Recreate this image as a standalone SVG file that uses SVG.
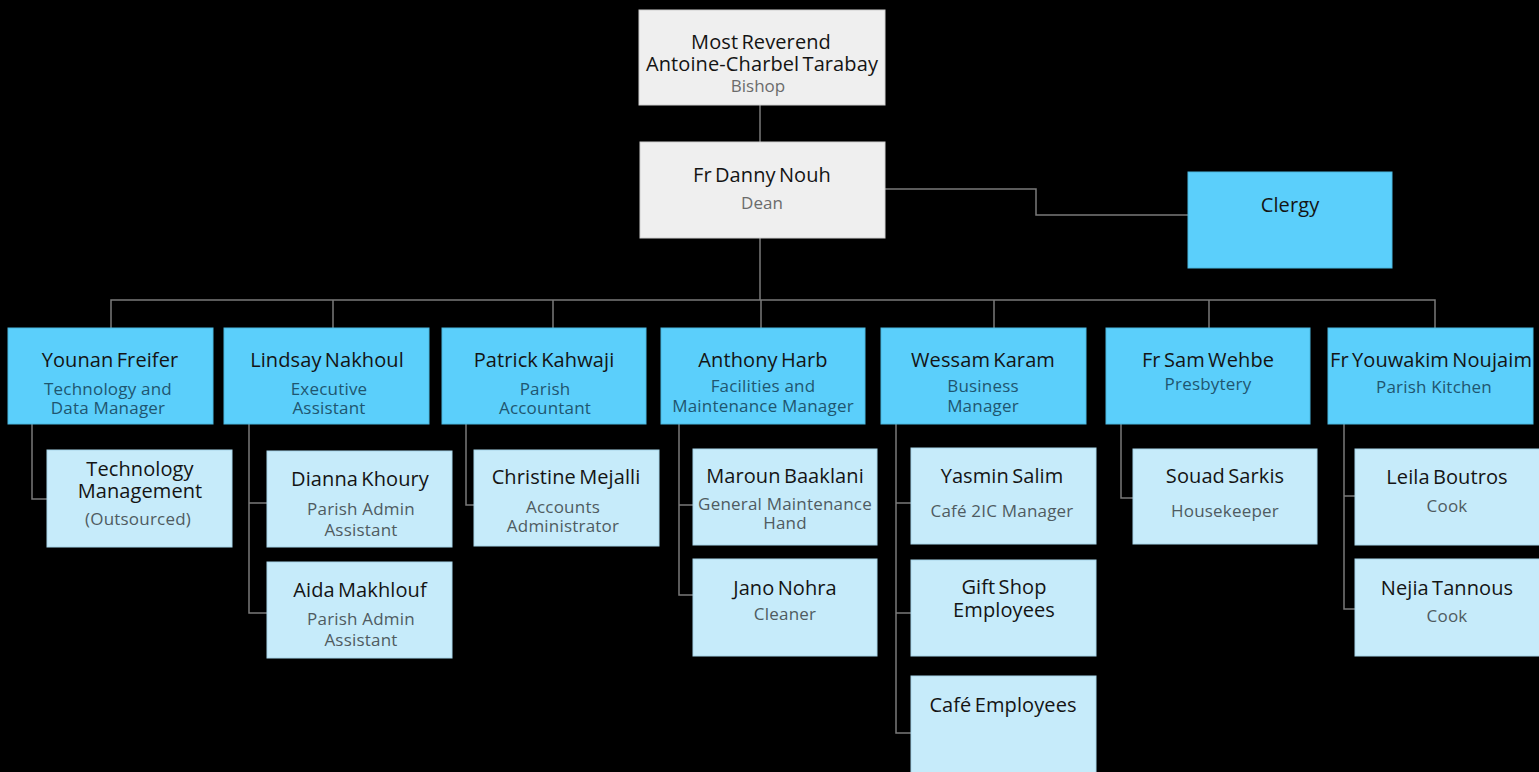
<svg xmlns="http://www.w3.org/2000/svg" width="1539" height="772" viewBox="0 0 1539 772">
<style>
.bg{fill:#000}
.top{fill:#efefef;stroke:#d0d0d0;stroke-width:1}
.l2{fill:#5bcffb;stroke:#4bb8e0;stroke-width:1}
.l3{fill:#c6ebfa;stroke:#a8d6ea;stroke-width:1}
.conn{fill:none;stroke:#7a7a7a;stroke-width:1.5}
text{font-family:"Open Sans","Liberation Sans",sans-serif;text-anchor:middle}
.nm{font-size:20px;fill:#141414;letter-spacing:0.1px;word-spacing:-2px;font-weight:500}
.st{font-size:17px;fill:#6b6b6b}
.s2{font-size:17px;fill:#1f5670;letter-spacing:0.2px}
.s3{font-size:17px;fill:#4f5b61;letter-spacing:0.2px}
</style>
<rect class="bg" x="0" y="0" width="1539" height="772"/>
<g id="connectors">
<path class="conn" d="M760 105V142"/>
<path class="conn" d="M885 189H1036V215H1188"/>
<path class="conn" d="M760 238V300"/>
<path class="conn" d="M111 328V300H1435V328"/>
<path class="conn" d="M333 300V328M553 300V328M761 300V328M994 300V328M1209 300V328"/>
<path class="conn" d="M32 424V499H47"/>
<path class="conn" d="M249 424V613H267M249 503H267"/>
<path class="conn" d="M466 424V505H474"/>
<path class="conn" d="M679 424V595H693M679 505H693"/>
<path class="conn" d="M896 424V733H911M896 503H911M896 613H911"/>
<path class="conn" d="M1121 424V498H1133"/>
<path class="conn" d="M1344 424V609H1355M1344 496H1355"/>
</g>
<g id="bishop"><rect class="top" x="639" y="10" width="246" height="95"/>
<text class="nm" x="761" y="49">Most Reverend</text>
<text class="nm" x="762" y="71">Antoine-Charbel Tarabay</text>
<text class="st" x="758" y="92">Bishop</text></g>
<g id="dean"><rect class="top" x="640" y="142" width="245" height="96"/>
<text class="nm" x="762" y="182">Fr Danny Nouh</text>
<text class="st" x="762" y="209">Dean</text></g>
<g id="clergy"><rect class="l2" x="1188" y="172" width="204" height="96"/>
<text class="nm" x="1290" y="212">Clergy</text></g>

<g id="younan"><rect class="l2" x="8" y="328" width="205" height="96"/>
<text class="nm" x="110" y="367">Younan Freifer</text>
<text class="s2" x="108" y="395">Technology and</text>
<text class="s2" x="108" y="414">Data Manager</text></g>
<g id="lindsay"><rect class="l2" x="224" y="328" width="205" height="96"/>
<text class="nm" x="327" y="367">Lindsay Nakhoul</text>
<text class="s2" x="329" y="395">Executive</text>
<text class="s2" x="329" y="414">Assistant</text></g>
<g id="patrick"><rect class="l2" x="442" y="328" width="204" height="96"/>
<text class="nm" x="544" y="367">Patrick Kahwaji</text>
<text class="s2" x="545" y="395">Parish</text>
<text class="s2" x="545" y="414">Accountant</text></g>
<g id="anthony"><rect class="l2" x="661" y="328" width="204" height="96"/>
<text class="nm" x="763" y="367">Anthony Harb</text>
<text class="s2" x="763" y="392">Facilities and</text>
<text class="s2" x="763" y="412">Maintenance Manager</text></g>
<g id="wessam"><rect class="l2" x="881" y="328" width="205" height="96"/>
<text class="nm" x="983" y="367">Wessam Karam</text>
<text class="s2" x="983" y="392">Business</text>
<text class="s2" x="983" y="412">Manager</text></g>
<g id="sam"><rect class="l2" x="1106" y="328" width="204" height="96"/>
<text class="nm" x="1208" y="367">Fr Sam Wehbe</text>
<text class="s2" x="1208" y="390">Presbytery</text></g>
<g id="youwakim"><rect class="l2" x="1328" y="328" width="205" height="96"/>
<text class="nm" x="1431" y="367">Fr Youwakim Noujaim</text>
<text class="s2" x="1434" y="393">Parish Kitchen</text></g>

<g id="techmgmt"><rect class="l3" x="47" y="450" width="185" height="97"/>
<text class="nm" x="140" y="476">Technology</text>
<text class="nm" x="140" y="498">Management</text>
<text class="s3" x="138" y="525">(Outsourced)</text></g>
<g id="dianna"><rect class="l3" x="267" y="451" width="185" height="96"/>
<text class="nm" x="360" y="486">Dianna Khoury</text>
<text class="s3" x="361" y="515">Parish Admin</text>
<text class="s3" x="361" y="536">Assistant</text></g>
<g id="aida"><rect class="l3" x="267" y="562" width="185" height="96"/>
<text class="nm" x="360" y="597">Aida Makhlouf</text>
<text class="s3" x="361" y="625">Parish Admin</text>
<text class="s3" x="361" y="646">Assistant</text></g>
<g id="christine"><rect class="l3" x="474" y="450" width="185" height="96"/>
<text class="nm" x="566" y="484">Christine Mejalli</text>
<text class="s3" x="563" y="513">Accounts</text>
<text class="s3" x="563" y="532">Administrator</text></g>
<g id="maroun"><rect class="l3" x="693" y="449" width="184" height="96"/>
<text class="nm" x="785" y="483">Maroun Baaklani</text>
<text class="s3" x="785" y="510">General Maintenance</text>
<text class="s3" x="785" y="529">Hand</text></g>
<g id="jano"><rect class="l3" x="693" y="559" width="184" height="97"/>
<text class="nm" x="785" y="595">Jano Nohra</text>
<text class="s3" x="785" y="620">Cleaner</text></g>
<g id="yasmin"><rect class="l3" x="911" y="448" width="185" height="96"/>
<text class="nm" x="1002" y="483">Yasmin Salim</text>
<text class="s3" x="1002" y="517">Café 2IC Manager</text></g>
<g id="giftshop"><rect class="l3" x="911" y="560" width="185" height="96"/>
<text class="nm" x="1004" y="594">Gift Shop</text>
<text class="nm" x="1004" y="617">Employees</text></g>
<g id="cafe"><rect class="l3" x="911" y="676" width="185" height="100"/>
<text class="nm" x="1003" y="712">Café Employees</text></g>
<g id="souad"><rect class="l3" x="1133" y="449" width="184" height="95"/>
<text class="nm" x="1225" y="483">Souad Sarkis</text>
<text class="s3" x="1225" y="517">Housekeeper</text></g>
<g id="leila"><rect class="l3" x="1355" y="449" width="190" height="96"/>
<text class="nm" x="1447" y="484">Leila Boutros</text>
<text class="s3" x="1447" y="512">Cook</text></g>
<g id="nejia"><rect class="l3" x="1355" y="559" width="190" height="97"/>
<text class="nm" x="1447" y="595">Nejia Tannous</text>
<text class="s3" x="1447" y="622">Cook</text></g>
</svg>
